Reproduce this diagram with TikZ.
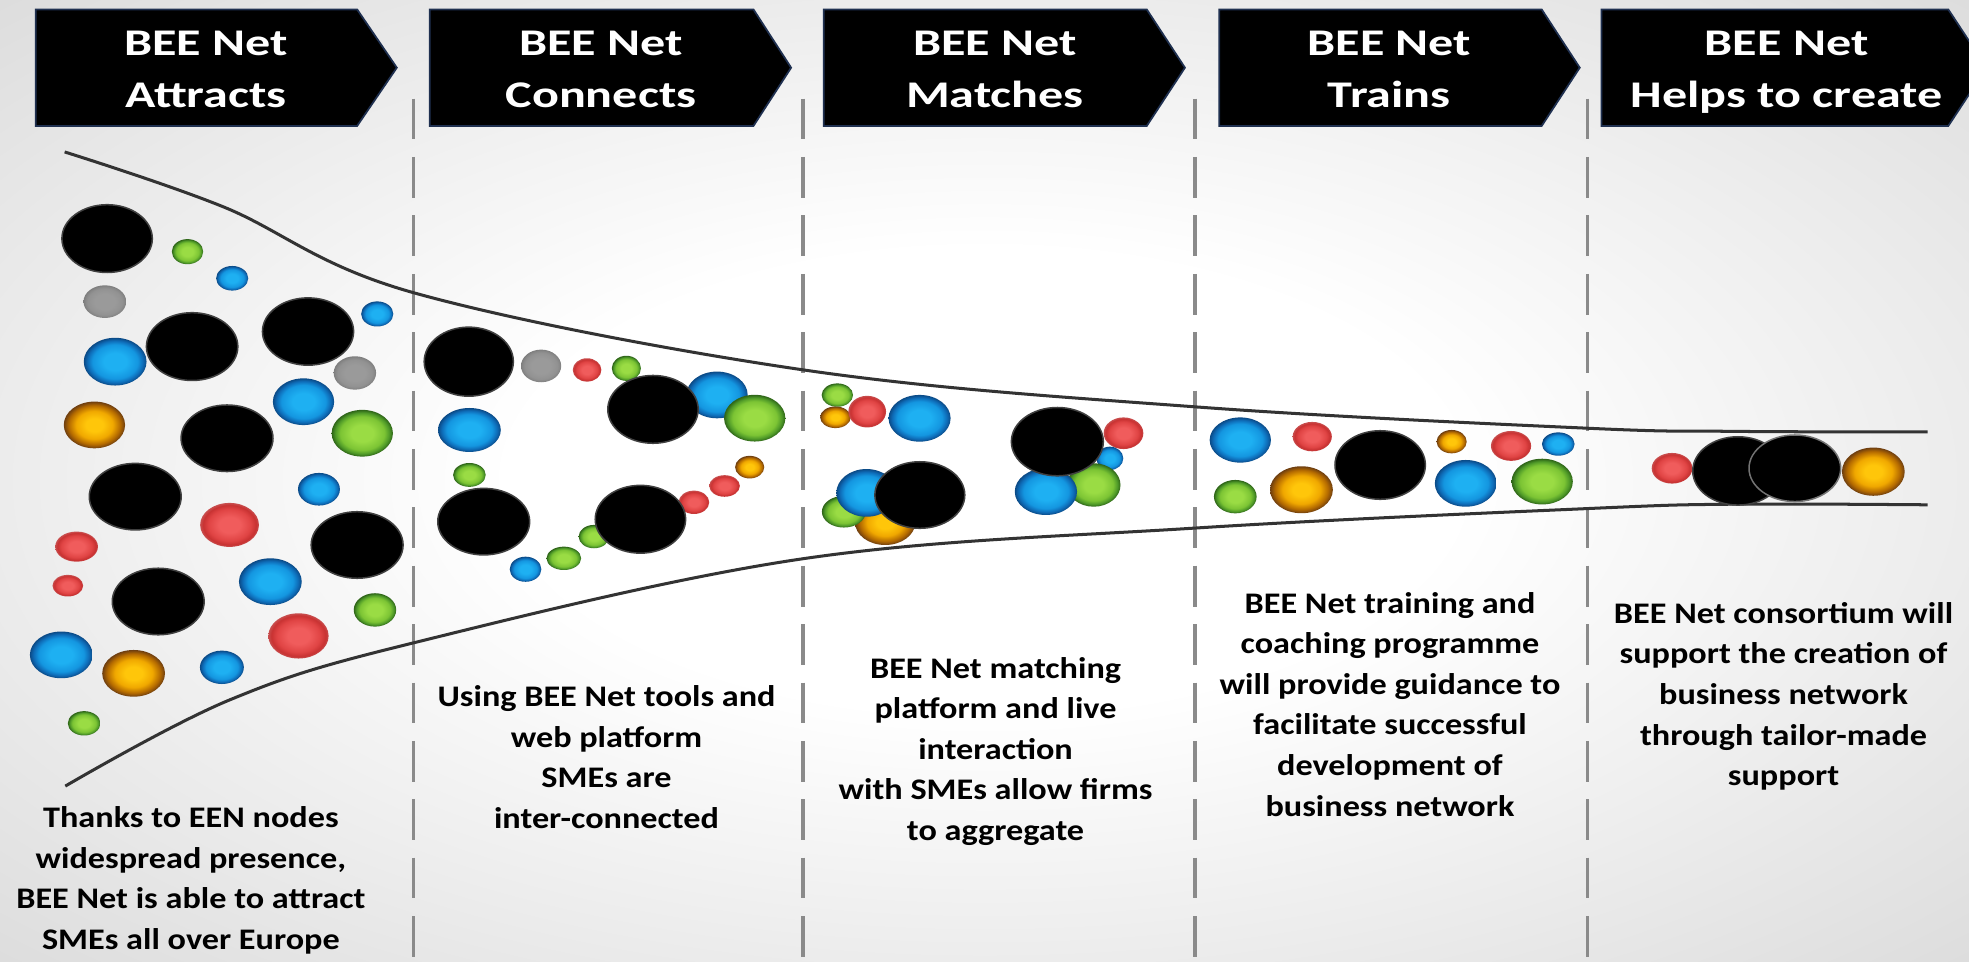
\documentclass[tikz,border=0pt]{standalone}
\usepackage{fontspec}
\setmainfont{Carlito}
\definecolor{bA}{HTML}{1EB0F2}\definecolor{bB}{HTML}{1496E0}\definecolor{bC}{HTML}{0E6CB8}\definecolor{bD}{HTML}{0B4A86}
\definecolor{gA}{HTML}{9ADC44}\definecolor{gB}{HTML}{7CC434}\definecolor{gC}{HTML}{4F9A28}\definecolor{gD}{HTML}{2E6418}
\definecolor{rA}{HTML}{F05C5C}\definecolor{rB}{HTML}{E04444}\definecolor{rC}{HTML}{C83232}\definecolor{rD}{HTML}{C84E4E}
\definecolor{oA}{HTML}{FFC60A}\definecolor{oB}{HTML}{F0A800}\definecolor{oC}{HTML}{B46A00}\definecolor{oD}{HTML}{6E3E10}
\definecolor{yA}{HTML}{9A9A9A}\definecolor{yB}{HTML}{929292}\definecolor{yC}{HTML}{888888}\definecolor{yD}{HTML}{7E7E7E}
\definecolor{bgE}{HTML}{DCDCDC}
\definecolor{hdredge}{HTML}{1F3050}
\definecolor{sepgray}{HTML}{8A8A8A}
\pgfdeclareradialshading{sblue}{\pgfpoint{0bp}{0bp}}{color(0bp)=(bA); color(9bp)=(bA); color(18bp)=(bB); color(22bp)=(bC); color(25bp)=(bD); color(50bp)=(bD)}
\pgfdeclareradialshading{sgreen}{\pgfpoint{0bp}{0bp}}{color(0bp)=(gA); color(9bp)=(gA); color(18bp)=(gB); color(22bp)=(gC); color(25bp)=(gD); color(50bp)=(gD)}
\pgfdeclareradialshading{sred}{\pgfpoint{0bp}{0bp}}{color(0bp)=(rA); color(9bp)=(rA); color(18bp)=(rB); color(22.5bp)=(rC); color(25bp)=(rD); color(50bp)=(rD)}
\pgfdeclareradialshading{sorange}{\pgfpoint{0bp}{0bp}}{color(0bp)=(oA); color(7bp)=(oA); color(15bp)=(oB); color(21bp)=(oC); color(25bp)=(oD); color(50bp)=(oD)}
\pgfdeclareradialshading{sgray}{\pgfpoint{0bp}{0bp}}{color(0bp)=(yA); color(12bp)=(yA); color(20bp)=(yB); color(23bp)=(yC); color(25bp)=(yD); color(50bp)=(yD)}
\pgfdeclareradialshading{sbg}{\pgfpoint{0bp}{0bp}}{color(0bp)=(white); color(12bp)=(white); color(36bp)=(bgE); color(50bp)=(bgE)}
\newcommand\bubble[5]{\shade[shading=s#1] (#2,#3) ellipse [x radius=#4*0.5pt, y radius=#5*0.5pt];}
\newcommand\blackblob[4]{\fill[black, draw=black!75, line width=0.6pt] (#1,#2) ellipse [x radius=#3*0.5pt, y radius=#4*0.5pt];}
\begin{document}
\begin{tikzpicture}[x=0.5pt, y=-0.5pt,
  hdrbox/.style={fill=black, draw=hdredge, line width=0.7pt, line join=miter},
  hdr/.style={font=\fontsize{15pt}{15pt}\selectfont\bfseries, text=white, anchor=base, inner sep=0pt, xscale=1.33},
  txt/.style={font=\fontsize{11.9pt}{11.9pt}\selectfont\bfseries, text=black, anchor=base, inner sep=0pt, xscale=1.145},
  sep/.style={draw=sepgray, line width=1.25pt, dash pattern=on 16.25pt off 7pt},
  funnel/.style={draw=black!80, line width=1.2pt}]
\useasboundingbox (0,0) rectangle (1568,765.3);
\clip (0,0) rectangle (1568,765.3);
\shade[shading=sbg] (0,0) rectangle (1568,765.3);

% separators
\foreach \xx in {329,639.5,951.6,1264} \draw[sep] (\xx,78.5) -- (\xx,770);

% funnel
\draw[funnel] plot[smooth, tension=0.6] coordinates {(51.5,121) (177.6,164.6) (329,233) (640,294.6) (952,324) (1264,341) (1380,343.5) (1535,344)};
\draw[funnel] plot[smooth, tension=0.6] coordinates {(52,626) (182.8,557.4) (329,512) (639,445) (952,420.5) (1264,405) (1380,401.5) (1535,402)};

% section 1
\blackblob{85.3}{190}{36}{27}
\bubble{green}{149.3}{200.4}{12.5}{10}
\bubble{blue}{184.9}{221.6}{12.8}{9.8}
\bubble{gray}{83.5}{240.2}{17}{13}
\bubble{blue}{300.4}{250}{12.8}{10}
\blackblob{153}{276}{36.4}{27}
\blackblob{245.3}{264}{36.3}{26.8}
\bubble{blue}{91.7}{288}{25}{19}
\bubble{gray}{282.6}{297}{16.9}{13.3}
\bubble{blue}{241.7}{319.9}{24.4}{18.6}
\bubble{orange}{75.2}{338.4}{24.4}{18.6}
\blackblob{180.8}{349}{36.6}{26.5}
\bubble{green}{288.5}{345}{24.4}{18.6}
\blackblob{107.7}{395.5}{36.6}{26.5}
\bubble{blue}{254}{389.6}{16.7}{13}
\bubble{red}{182.8}{418}{23.4}{17.5}
\blackblob{284.4}{434}{36.6}{26.5}
\bubble{red}{61}{435.3}{17}{12}
\bubble{red}{54}{466.4}{12.2}{8.6}
\bubble{blue}{215.3}{463.2}{25}{18.6}
\blackblob{126}{479}{36.6}{26.5}
\bubble{green}{298.6}{485.7}{16.9}{13.3}
\bubble{red}{237.7}{506.4}{24}{18}
\bubble{blue}{48.8}{521.5}{25}{18.6}
\bubble{orange}{106.4}{536.2}{25}{18.6}
\bubble{blue}{176.7}{531.4}{17.5}{13.3}
\bubble{green}{67}{576}{13}{9.7}

% section 2
\blackblob{373.3}{288}{35.5}{27.5}
\bubble{gray}{430.9}{291.4}{16}{13}
\bubble{red}{467.5}{294.6}{11.4}{9.3}
\bubble{green}{498.8}{293.3}{11.6}{10}
\bubble{blue}{571}{314.5}{24.4}{18.6}
\bubble{green}{601}{333}{24.4}{18.6}
\blackblob{520}{326}{36}{27}
\bubble{blue}{373.8}{342.4}{25}{17.5}
\bubble{green}{373.8}{378.2}{13}{9.5}
\bubble{orange}{597}{372}{11.6}{9}
\bubble{red}{577}{387}{12.2}{8.6}
\bubble{red}{552.6}{400}{12.2}{9.3}
\bubble{green}{473}{427.3}{12.2}{9.3}
\blackblob{385.2}{415.4}{36.6}{26.5}
\blackblob{510}{413.5}{36}{27}
\bubble{green}{449}{444.6}{13.8}{9.3}
\bubble{blue}{418.5}{453.3}{12.6}{10}

% section 3
\bubble{green}{666.8}{314.6}{12.5}{9.3}
\bubble{orange}{665.3}{332.3}{12.2}{8.6}
\bubble{red}{690.6}{327.8}{15}{12.6}
\bubble{blue}{732.3}{333.1}{24.7}{18.6}
\bubble{orange}{704.9}{416}{24}{18}
\bubble{green}{672}{407.5}{17.5}{12.6}
\bubble{blue}{690}{392.5}{24}{19}
\blackblob{732.5}{394.2}{35.8}{26.5}
\bubble{red}{894.7}{345}{15.8}{12.6}
\bubble{blue}{883.8}{365}{10.7}{9.3}
\bubble{green}{871}{386.2}{21.3}{17.3}
\bubble{blue}{832.9}{391.5}{24.8}{18.6}
\blackblob{842}{351.7}{36.6}{27.2}

% section 4
\bubble{blue}{987.7}{350.4}{24.4}{18}
\bubble{red}{1045}{347.7}{15.6}{11.7}
\bubble{green}{983.7}{395.5}{17}{13.3}
\bubble{orange}{1036.4}{390}{25}{18.7}
\blackblob{1099.1}{370.3}{36}{27.3}
\bubble{orange}{1156}{351.7}{12}{9.3}
\bubble{red}{1203.3}{355.1}{16}{11.9}
\bubble{blue}{1240.9}{353.6}{13}{9.3}
\bubble{blue}{1167.2}{384.9}{24.6}{18.6}
\bubble{green}{1228.1}{383.5}{24.4}{18.2}

% section 5
\bubble{red}{1331.5}{372.9}{16.2}{12.2}
\blackblob{1384}{375}{36}{27.2}
\fill[black, draw=black!55, line width=0.6pt] (1429.3,372.9) ellipse [x radius=36.5*0.5pt, y radius=26.5*0.5pt];
\bubble{orange}{1491.8}{375.6}{25}{19.2}

% headers
\draw[hdrbox] (28.4,7.5) -- (284.4,7.5) -- (316,53.9) -- (284.4,100.3) -- (28.4,100.3) -- cycle;
\draw[hdrbox] (342.2,7.5) -- (600,7.5) -- (630,53.9) -- (600,100.3) -- (342.2,100.3) -- cycle;
\draw[hdrbox] (656,7.5) -- (913.2,7.5) -- (943.6,53.9) -- (913.2,100.3) -- (656,100.3) -- cycle;
\draw[hdrbox] (971,7.5) -- (1227.7,7.5) -- (1258,53.9) -- (1227.7,100.3) -- (971,100.3) -- cycle;
\draw[hdrbox] (1275.4,7.5) -- (1551.5,7.5) -- (1582,53.9) -- (1551.5,100.3) -- (1275.4,100.3) -- cycle;

\node[hdr] (h1a) at (164,43.8) {BEE Net};
\node[hdr] (h1b) at (164,85.5) {Attracts};
\node[hdr] (h2a) at (478.6,43.8) {BEE Net};
\node[hdr] (h2b) at (478.6,85.5) {Connects};
\node[hdr] (h3a) at (792.3,43.8) {BEE Net};
\node[hdr] (h3b) at (792.3,85.5) {Matches};
\node[hdr] (h4a) at (1106.4,43.8) {BEE Net};
\node[hdr] (h4b) at (1106.4,85.5) {Trains};
\node[hdr] (h5a) at (1422.7,43.8) {BEE Net};
\node[hdr] (h5b) at (1422.7,85.5) {Helps to create};

% body texts
\node[txt] (t1a) at (152,659) {Thanks to EEN nodes};
\node[txt] (t1b) at (152,691.3) {widespread presence,};
\node[txt] (t1c) at (152,723.6) {BEE Net is able to attract};
\node[txt] (t1d) at (152,755.9) {SMEs all over Europe};

\node[txt] (t2a) at (483,562.7) {Using BEE Net tools and};
\node[txt] (t2b) at (483,595) {web platform};
\node[txt] (t2c) at (483,627.3) {SMEs are};
\node[txt] (t2d) at (483,659.6) {inter-connected};

\node[txt] (t3a) at (792.8,540.1) {BEE Net matching};
\node[txt] (t3b) at (792.8,572.4) {platform and live};
\node[txt] (t3c) at (792.8,604.7) {interaction};
\node[txt] (t3d) at (792.8,637) {with SMEs allow firms};
\node[txt] (t3e) at (792.8,669.3) {to aggregate};

\node[txt] (t4a) at (1106.9,488.4) {BEE Net training and};
\node[txt] (t4b) at (1106.9,520.7) {coaching programme};
\node[txt] (t4c) at (1106.9,553) {will provide guidance to};
\node[txt] (t4d) at (1106.9,585.3) {facilitate successful};
\node[txt] (t4e) at (1106.9,617.6) {development of};
\node[txt] (t4f) at (1106.9,649.9) {business network};

\node[txt] (t5a) at (1420.3,496.4) {BEE Net consortium will};
\node[txt] (t5b) at (1420.3,528.7) {support the creation of};
\node[txt] (t5c) at (1420.3,561) {business network};
\node[txt] (t5d) at (1420.3,593.3) {through tailor-made};
\node[txt] (t5e) at (1420.3,625.6) {support};
\end{tikzpicture}
\end{document}
